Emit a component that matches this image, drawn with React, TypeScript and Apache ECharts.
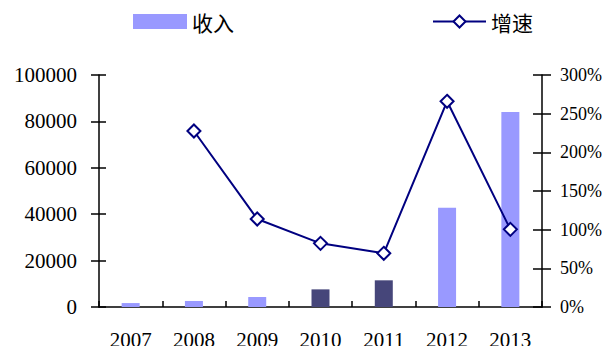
import React, { useEffect, useRef } from "react";
import * as echarts from "echarts";

// Yearly revenue (bars, left axis) and growth rate in % (line, right axis)
const years = ["2007", "2008", "2009", "2010", "2011", "2012", "2013"];
const revenue = [1700, 2600, 4300, 7600, 11500, 42800, 84000];
const growth: (number | string)[] = ["-", 227.6, 113.8, 82.3, 69.4, 266, 100.4];
// years whose bars are drawn in the darker shade
const darkYears = ["2010", "2011"];

const LIGHT = "#9999FF";
const DARK = "#46467A";
const NAVY = "#000080";
const SERIF = '"Liberation Serif", "Times New Roman", serif';
const CJK = '"Noto Sans CJK SC", sans-serif';

export default function App() {
  const ref = useRef<HTMLDivElement>(null);

  useEffect(() => {
    if (!ref.current) return;
    const chart = echarts.init(ref.current, undefined, { renderer: "svg" });

    const axisLine = { show: true, lineStyle: { color: "#000", width: 1.5 } };
    const tickStyle = { color: "#000", width: 1.5 };

    chart.setOption({
      animation: false,
      backgroundColor: "#fff",
      grid: { left: 99, right: 68, top: 75, bottom: 47, containLabel: false },
      legend: [
        {
          data: [{ name: "收入", icon: "rect" }],
          left: 128,
          top: 6,
          itemWidth: 54,
          itemHeight: 15,
          itemGap: 8,
          textStyle: { fontFamily: CJK, fontSize: 21, color: "#000" },
          selectedMode: false,
        },
        {
          data: ["增速"],
          left: 427,
          top: 6,
          itemWidth: 53,
          itemHeight: 15,
          itemGap: 7,
          textStyle: { fontFamily: CJK, fontSize: 21, color: "#000" },
          selectedMode: false,
        },
      ],
      xAxis: {
        type: "category",
        data: years,
        boundaryGap: true,
        axisLine,
        axisTick: { show: true, inside: true, length: 6, lineStyle: tickStyle },
        axisLabel: {
          fontFamily: SERIF,
          fontSize: 21,
          color: "#000",
          margin: 22,
        },
        splitLine: { show: false },
      },
      yAxis: [
        {
          type: "value",
          position: "left",
          min: 0,
          max: 100000,
          interval: 20000,
          axisLine,
          axisTick: { show: true, length: 8, lineStyle: tickStyle },
          axisLabel: {
            fontFamily: SERIF,
            fontSize: 21,
            color: "#000",
            margin: 22,
            formatter: (v: number) => String(v),
          },
          splitLine: { show: false },
        },
        {
          type: "value",
          position: "right",
          min: 0,
          max: 300,
          interval: 50,
          axisLine,
          axisTick: { show: true, length: 9, lineStyle: tickStyle },
          axisLabel: {
            fontFamily: SERIF,
            fontSize: 18,
            color: "#000",
            margin: 18,
            formatter: "{value}%",
          },
          splitLine: { show: false },
        },
        // inner halves of the crossing tick marks
        {
          type: "value",
          position: "left",
          min: 0,
          max: 100000,
          interval: 20000,
          axisLine: { show: false },
          axisTick: { show: true, inside: true, length: 7, lineStyle: tickStyle },
          axisLabel: { show: false },
          splitLine: { show: false },
        },
        {
          type: "value",
          position: "right",
          min: 0,
          max: 300,
          interval: 50,
          axisLine: { show: false },
          axisTick: { show: true, inside: true, length: 9, lineStyle: tickStyle },
          axisLabel: { show: false },
          splitLine: { show: false },
        },
      ],
      series: [
        {
          name: "收入",
          type: "bar",
          yAxisIndex: 0,
          barWidth: 18,
          itemStyle: { color: LIGHT },
          data: revenue.map((v, i) => ({
            value: v,
            itemStyle: { color: darkYears.includes(years[i]) ? DARK : LIGHT },
          })),
        },
        {
          name: "增速",
          type: "line",
          yAxisIndex: 1,
          data: growth,
          symbol: "diamond",
          symbolSize: 13,
          showAllSymbol: true,
          lineStyle: { color: NAVY, width: 2 },
          itemStyle: { color: "#fff", borderColor: NAVY, borderWidth: 2 },
          z: 3,
        },
      ],
    });

    return () => chart.dispose();
  }, []);

  return <div ref={ref} style={{ width: 610, height: 354, margin: -8 }} />;
}
